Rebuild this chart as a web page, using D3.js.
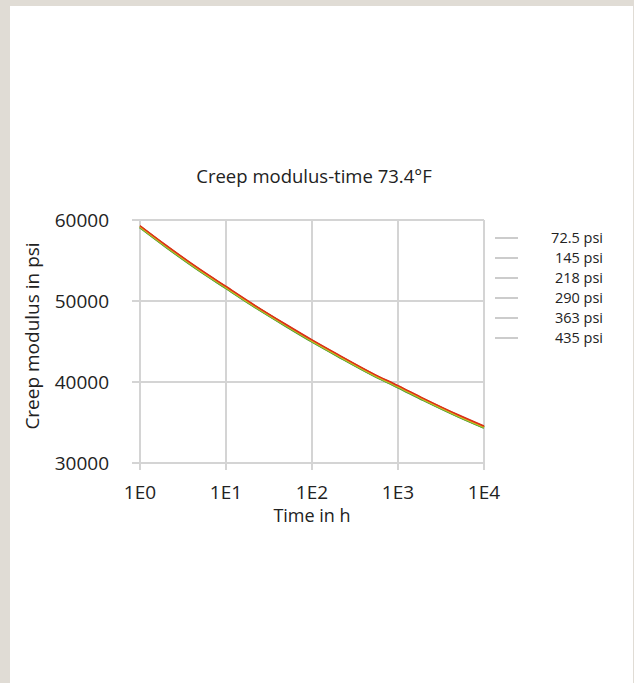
<!DOCTYPE html>
<html>
<head>
<meta charset="utf-8">
<script src="https://cdn.jsdelivr.net/npm/d3@7"></script>
<style>
  body { margin: 0; background: #e0dcd5; }
  svg { display: block; }
  text { font-family: "Open Sans", "Noto Sans", sans-serif; fill: #222; }
</style>
</head>
<body>
<svg id="chart" width="634" height="683"></svg>
<script>
// hours
var times = [1, 2, 5, 10, 20, 50, 100, 200, 500, 1000, 2000, 5000, 10000];

// creep modulus (psi) per stress level
var s72 = [59300, 56900, 53900, 51800, 49700, 47100, 45200, 43400, 41100, 39550, 37950, 35950, 34560];
var s145 = [59260, 56860, 53860, 51760, 49660, 47060, 45160, 43360, 41060, 39510, 37910, 35910, 34520];
var s218 = [59220, 56820, 53820, 51720, 49620, 47020, 45120, 43320, 41020, 39470, 37870, 35870, 34480];
var s290 = [59180, 56780, 53780, 51680, 49580, 46980, 45080, 43280, 40980, 39430, 37830, 35830, 34440];
var s363 = [59140, 56740, 53740, 51640, 49540, 46940, 45040, 43240, 40940, 39390, 37790, 35790, 34400];
var s435 = [59100, 56700, 53700, 51600, 49500, 46900, 45000, 43200, 40900, 39350, 37750, 35750, 34360];

var seriesNames = ["72.5 psi", "145 psi", "218 psi", "290 psi", "363 psi", "435 psi"];
var seriesValues = [s72, s145, s218, s290, s363, s435];
var seriesColors = ["#d8301c", "#f08a1c", "#e8c21c", "#9cc23a", "#6aa832", "#4a9030"];
var seriesWidths = [1.5, 1.5, 1.5, 2, 2.5, 2.5];

var xTicks = [1, 10, 100, 1000, 10000];
var xTickLabels = ["1E0", "1E1", "1E2", "1E3", "1E4"];
var yTicks = [30000, 40000, 50000, 60000];

var svg = d3.select("#chart");

// white panel
svg.append("rect")
    .attr("x", 10).attr("y", 6)
    .attr("width", 623).attr("height", 677)
    .attr("fill", "#fff");

var x = d3.scaleLog().domain([1, 10000]).range([140, 484]);
var y = d3.scaleLinear().domain([30000, 60000]).range([463, 220]);

var grid = svg.append("g").attr("stroke", "#d4d4d4").attr("stroke-width", 2);

grid.selectAll("line.h")
    .data(yTicks)
    .enter().append("line")
    .attr("x1", 132).attr("x2", 484)
    .attr("y1", function (d) { return y(d); })
    .attr("y2", function (d) { return y(d); });

grid.selectAll("line.v")
    .data(xTicks)
    .enter().append("line")
    .attr("x1", function (d) { return x(d); })
    .attr("x2", function (d) { return x(d); })
    .attr("y1", 220).attr("y2", 470);

// y tick labels
svg.selectAll("text.ytick")
    .data(yTicks)
    .enter().append("text")
    .attr("x", 109)
    .attr("y", function (d) { return y(d); })
    .attr("dy", "0.35em")
    .attr("text-anchor", "end")
    .style("font-size", "19px")
    .text(function (d) { return d; });

// x tick labels
svg.selectAll("text.xtick")
    .data(xTicks)
    .enter().append("text")
    .attr("x", function (d) { return x(d); })
    .attr("y", 492)
    .attr("dy", "0.35em")
    .attr("text-anchor", "middle")
    .style("font-size", "19px")
    .text(function (d, i) { return xTickLabels[i]; });

svg.append("text")
    .attr("x", 312).attr("y", 516)
    .attr("dy", "0.35em")
    .attr("text-anchor", "middle")
    .style("font-size", "18px")
    .text("Time in h");

svg.append("text")
    .attr("transform", "translate(32,336) rotate(-90)")
    .attr("dy", "0.35em")
    .attr("text-anchor", "middle")
    .style("font-size", "19px")
    .text("Creep modulus in psi");

svg.append("text")
    .attr("x", 314).attr("y", 177)
    .attr("dy", "0.35em")
    .attr("text-anchor", "middle")
    .style("font-size", "18.5px")
    .text("Creep modulus-time 73.4°F");

var line = d3.line()
    .x(function (d, i) { return x(times[i]); })
    .y(function (d) { return y(d); })
    .curve(d3.curveMonotoneX);

// highest stress drawn first, lowest stress ends on top
var order = [5, 4, 3, 2, 1, 0];
svg.append("g")
    .selectAll("path")
    .data(order)
    .enter().append("path")
    .attr("d", function (k) { return line(seriesValues[k]); })
    .attr("fill", "none")
    .attr("stroke", function (k) { return seriesColors[k]; })
    .attr("stroke-width", function (k) { return seriesWidths[k]; });

// legend
var legend = svg.append("g")
    .selectAll("g")
    .data(seriesNames)
    .enter().append("g")
    .attr("transform", function (d, i) { return "translate(0," + (238 + i * 20) + ")"; });

legend.append("line")
    .attr("x1", 495).attr("x2", 518)
    .attr("stroke", "#cccccc")
    .attr("stroke-width", 2);

legend.append("text")
    .attr("x", 603)
    .attr("dy", "0.35em")
    .attr("text-anchor", "end")
    .style("font-size", "14.5px")
    .text(function (d) { return d; });
</script>
</body>
</html>
